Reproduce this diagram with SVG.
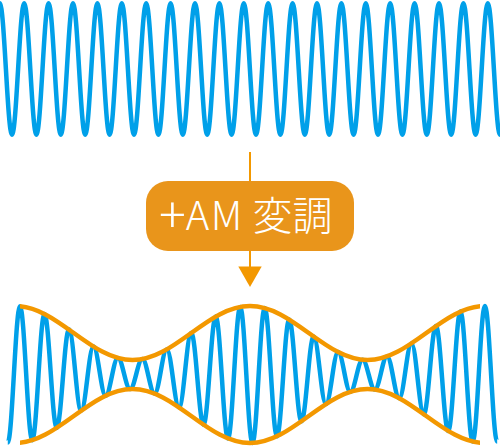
<svg xmlns="http://www.w3.org/2000/svg" width="500" height="446" viewBox="0 0 500 446">
<style>
.wave{fill:none;stroke:#00A0E9;stroke-width:4.5;stroke-linejoin:round}
.env{fill:none;stroke:#F39800;stroke-width:4.5}
.conn{stroke:#F39800;stroke-width:2;fill:none}
.label{font-family:"Noto Sans CJK JP","Noto Sans",sans-serif;font-size:40px;font-weight:300;fill:#FFFFFF}
</style>
<defs>
<clipPath id="envclip"><rect x="20" y="280" width="460" height="166"/></clipPath>
</defs>
<g id="carrier">
<path class="wave" d="M -0.2,3.2 c 4.433,0 7.767,131.6 12.2,131.6 s 7.767,-131.6 12.2,-131.6 s 7.767,131.6 12.2,131.6 s 7.767,-131.6 12.2,-131.6 s 7.767,131.6 12.2,131.6 s 7.767,-131.6 12.2,-131.6 s 7.767,131.6 12.2,131.6 s 7.767,-131.6 12.2,-131.6 s 7.767,131.6 12.2,131.6 s 7.767,-131.6 12.2,-131.6 s 7.767,131.6 12.2,131.6 s 7.767,-131.6 12.2,-131.6 s 7.767,131.6 12.2,131.6 s 7.767,-131.6 12.2,-131.6 s 7.767,131.6 12.2,131.6 s 7.767,-131.6 12.2,-131.6 s 7.767,131.6 12.2,131.6 s 7.767,-131.6 12.2,-131.6 s 7.767,131.6 12.2,131.6 s 7.767,-131.6 12.2,-131.6 s 7.767,131.6 12.2,131.6 s 7.767,-131.6 12.2,-131.6 s 7.767,131.6 12.2,131.6 s 7.767,-131.6 12.2,-131.6 s 7.767,131.6 12.2,131.6 s 7.767,-131.6 12.2,-131.6 s 7.767,131.6 12.2,131.6 s 7.767,-131.6 12.2,-131.6 s 7.767,131.6 12.2,131.6 s 7.767,-131.6 12.2,-131.6 s 7.767,131.6 12.2,131.6 s 7.767,-131.6 12.2,-131.6 s 7.767,131.6 12.2,131.6 s 7.767,-131.6 12.2,-131.6 s 7.767,131.6 12.2,131.6 s 7.767,-131.6 12.2,-131.6 s 7.767,131.6 12.2,131.6 s 7.767,-131.6 12.2,-131.6 s 7.767,131.6 12.2,131.6 s 7.767,-131.6 12.2,-131.6 s 7.767,131.6 12.2,131.6 s 7.767,-131.6 12.2,-131.6"/>
</g>
<g id="connectors">
<line class="conn" x1="250" y1="152" x2="250" y2="268"/>
<polygon points="238.3,266.5 261.7,266.5 250,287" fill="#F39800"/>
</g>
<g id="am-node">
<rect x="146" y="181" width="208" height="70" rx="22" ry="22" fill="#E9951B"/>
<text class="label" x="159" y="229.5"><tspan font-size="50" dy="3">+</tspan><tspan dy="-3" letter-spacing="1.5">AM</tspan><tspan> 変調</tspan></text>
</g>
<g id="am-wave">
<path class="wave" d="M 7.77,442.5 c 4.446,0 7.789,-136.26 12.235,-136.26 s 7.789,133.94 12.235,133.94 s 7.789,-126.22 12.235,-126.22 s 7.789,113.92 12.235,113.92 s 7.789,-98.34 12.235,-98.34 s 7.789,81.14 12.235,81.14 s 7.789,-64.13 12.235,-64.13 s 7.789,49.11 12.235,49.11 s 7.789,-37.7 12.235,-37.7 s 7.789,31.09 12.235,31.09 s 7.789,-29.98 12.235,-29.98 s 7.789,34.5 12.235,34.5 s 7.789,-44.16 12.235,-44.16 s 7.789,57.93 12.235,57.93 s 7.789,-74.37 12.235,-74.37 s 7.789,91.74 12.235,91.74 s 7.789,-108.16 12.235,-108.16 s 7.789,121.91 12.235,121.91 s 7.789,-131.54 12.235,-131.54 s 7.789,136.02 12.235,136.02 s 7.789,-134.88 12.235,-134.88 s 7.789,128.23 12.235,128.23 s 7.789,-116.79 12.235,-116.79 s 7.789,101.77 12.235,101.77 s 7.789,-84.75 12.235,-84.75 s 7.789,67.54 12.235,67.54 s 7.789,-51.96 12.235,-51.96 s 7.789,39.69 12.235,39.69 s 7.789,-32.02 12.235,-32.02 s 7.789,29.75 12.235,29.75 s 7.789,-33.13 12.235,-33.13 s 7.789,41.79 12.235,41.79 s 7.789,-54.8 12.235,-54.8 s 7.789,70.82 12.235,70.82 s 7.789,-88.15 12.235,-88.15 s 7.789,104.94 12.235,104.94 s 7.789,-119.39 12.235,-119.39 s 7.789,129.95 12.235,129.95 s 7.789,-135.55 12.235,-135.55 s 7.789,135.59 12.235,135.59"/>
<g clip-path="url(#envclip)">
<path class="env" d="M 15,306 c 42.7,0 74.8,54 117.5,54 s 74.8,-54 117.5,-54 s 74.8,54 117.5,54 s 74.8,-54 117.5,-54"/>
<path class="env" d="M 15,443 c 42.7,0 74.8,-54 117.5,-54 s 74.8,54 117.5,54 s 74.8,-54 117.5,-54 s 74.8,54 117.5,54"/>
</g>
</g>
</svg>
